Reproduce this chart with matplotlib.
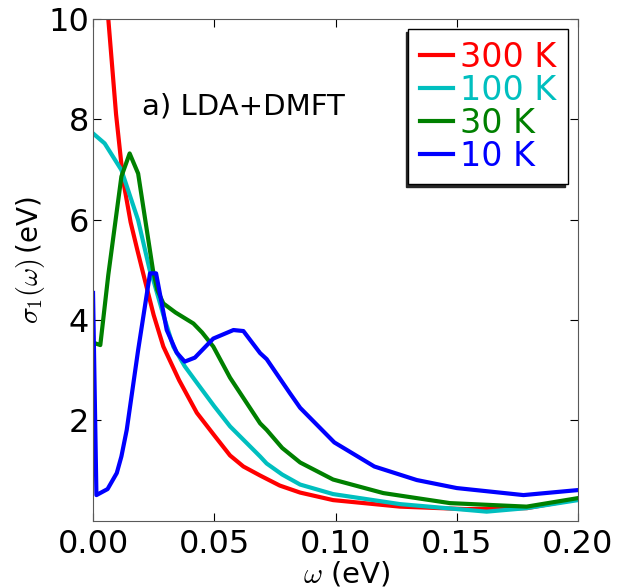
import matplotlib
matplotlib.use('Agg')
import matplotlib.pyplot as plt

plt.rcParams['mathtext.fontset'] = 'cm'

# 300 K
w_300 = [0.0, 0.003, 0.0063, 0.0095, 0.0124, 0.0155, 0.0183, 0.0214, 0.025, 0.029, 0.0355,
         0.0428, 0.05, 0.0565, 0.062, 0.0689, 0.077, 0.0854, 0.099, 0.1266, 0.154, 0.179, 0.2]
s_300 = [16.0, 12.8, 10.0, 8.1, 6.79, 5.95, 5.39, 4.79, 4.1, 3.47, 2.8,
         2.15, 1.7, 1.3, 1.08, 0.9, 0.7, 0.56, 0.41, 0.28, 0.23, 0.25, 0.43]

# 100 K
w_100 = [0.0, 0.0048, 0.0117, 0.0186, 0.0234, 0.0249, 0.029, 0.0331, 0.0378, 0.0428, 0.05,
         0.0565, 0.0689, 0.0716, 0.078, 0.0854, 0.099, 0.1266, 0.1623, 0.1788, 0.2]
s_100 = [7.72, 7.52, 6.99, 5.99, 4.99, 4.79, 4.1, 3.47, 3.08, 2.75, 2.28,
         1.88, 1.28, 1.14, 0.92, 0.72, 0.53, 0.33, 0.18, 0.25, 0.41]

# 30 K
w_30 = [0.0, 0.003, 0.0063, 0.0117, 0.0151, 0.0186, 0.0247, 0.0265, 0.029, 0.034,
        0.0414, 0.045, 0.0496, 0.0565, 0.0689, 0.0716, 0.078, 0.0854, 0.099, 0.1197, 0.1472,
        0.1788, 0.2]
s_30 = [3.55, 3.5, 4.9, 6.86, 7.32, 6.92, 5.0, 4.6, 4.33, 4.15,
        3.93, 3.75, 3.47, 2.85, 1.94, 1.81, 1.45, 1.16, 0.82, 0.55, 0.35,
        0.28, 0.45]

# 10 K
w_10 = [0.0, 0.0014, 0.006, 0.0098, 0.0117, 0.0139, 0.0186, 0.0235, 0.026, 0.0304,
        0.0345, 0.0378, 0.042, 0.0496, 0.0579, 0.062, 0.0689, 0.0716, 0.0812, 0.0854,
        0.0995, 0.116, 0.1335, 0.15, 0.1775, 0.2]
s_10 = [4.54, 0.51, 0.63, 0.95, 1.28, 1.81, 3.4, 4.93, 4.93, 3.8,
        3.35, 3.17, 3.25, 3.63, 3.8, 3.78, 3.34, 3.22, 2.54, 2.25,
        1.56, 1.08, 0.81, 0.65, 0.51, 0.61]

labels = ['300 K', '100 K', '30 K', '10 K']
colors = ['#ff0000', '#00bfbf', '#008000', '#0000ff']

fig = plt.figure(figsize=(6.21, 5.88), dpi=100)
ax = fig.add_axes([0.1498, 0.1145, 0.781, 0.8532])

series = [(w_300, s_300), (w_100, s_100), (w_30, s_30), (w_10, s_10)]
for (w, s), lab, col in zip(series, labels, colors):
    ax.plot(w, s, color=col, lw=3, label=lab)

ax.set_xlim(0, 0.2)
ax.set_ylim(0, 10)
ax.set_xticks([0.0, 0.05, 0.10, 0.15, 0.20])
ax.set_xticklabels(['0.00', '0.05', '0.10', '0.15', '0.20'])
ax.set_yticks([2, 4, 6, 8, 10])
ax.tick_params(direction='in', top=True, right=True, labelsize=23, length=5.5)
ax.tick_params(axis='y', pad=3)
ax.tick_params(axis='x', pad=6)
for sp in ax.spines.values():
    sp.set_color('0.35')

ax.text(0.0202, 8.09, 'a) LDA+DMFT', fontsize=21, va='baseline')

ax.set_ylabel(r'$\sigma_1(\omega)\,$(eV)', fontsize=20)
ax.yaxis.set_label_coords(-0.095, 0.52)
ax.set_xlabel(r'$\omega$ (eV)', fontsize=21)
ax.xaxis.set_label_coords(0.524, -0.078)

leg = ax.legend(loc='upper right', fontsize=24, handlelength=1.0, handletextpad=0.2,
                labelspacing=0.0, borderpad=0.35, borderaxespad=0.3, fancybox=False,
                shadow={'ox': -2, 'oy': -2, 'color': '0.15', 'alpha': 1})
leg.get_frame().set_edgecolor('k')
leg.get_frame().set_linewidth(1.0)
for txt, col in zip(leg.get_texts(), colors):
    txt.set_color(col)

fig.savefig('out.png', dpi=100)
